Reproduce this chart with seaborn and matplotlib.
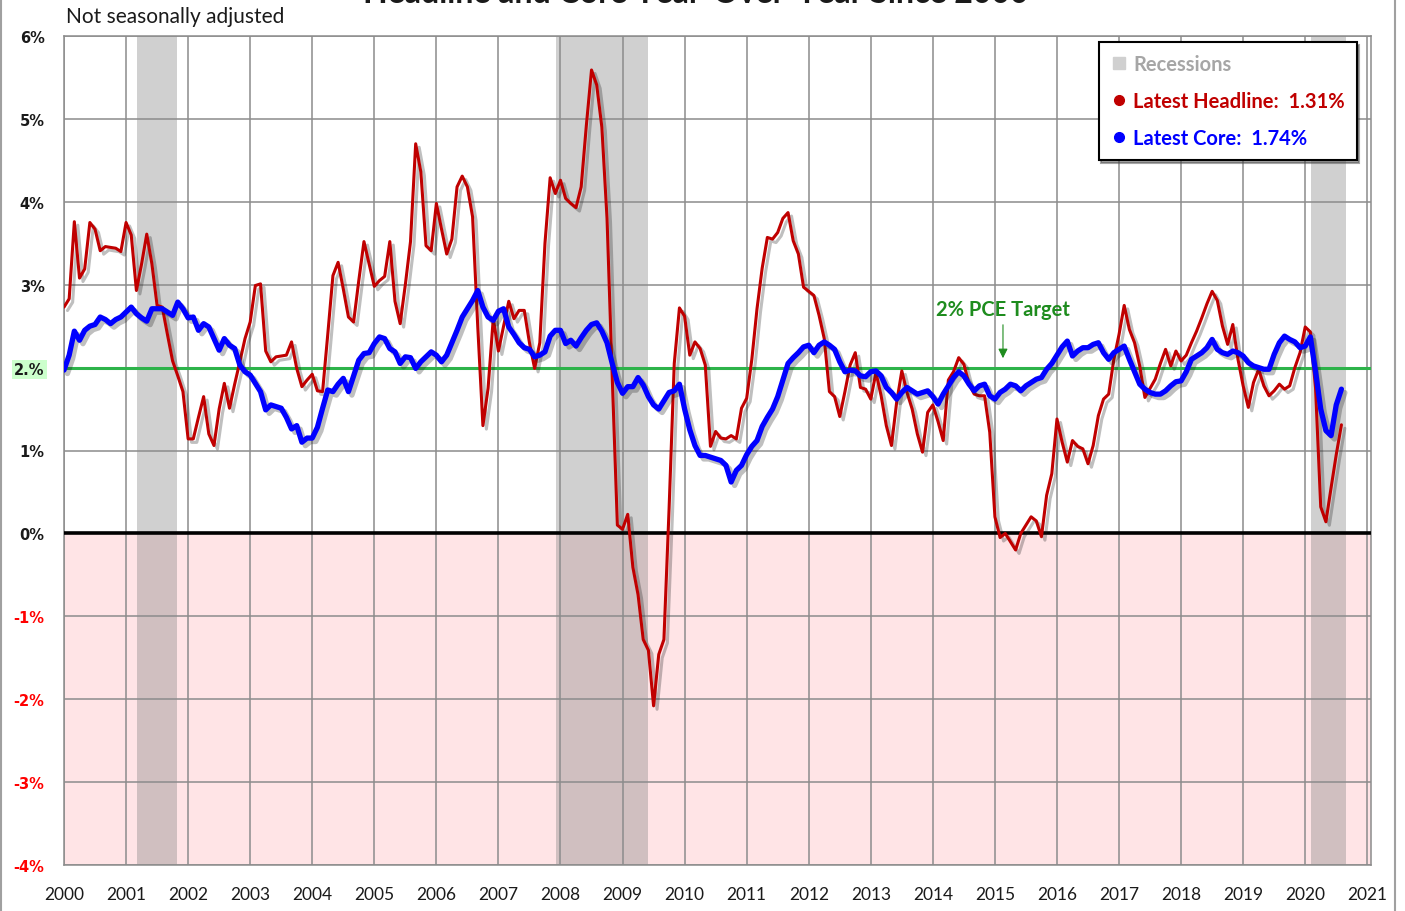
import numpy as np
import pandas as pd
import matplotlib
matplotlib.use("Agg")
import matplotlib.pyplot as plt
import matplotlib.patheffects as pe
from matplotlib.lines import Line2D
import seaborn as sns

# ── DATA: PCE year-over-year change (%), monthly Jan 2000 .. Aug 2020 ──
headline = [
    2.73, 2.83, 3.76, 3.08, 3.19, 3.75, 3.67, 3.41, 3.46, 3.45, 3.44, 3.40,   # 2000
    3.75, 3.60, 2.93, 3.25, 3.61, 3.25, 2.75, 2.73, 2.40, 2.08, 1.90, 1.71,   # 2001
    1.14, 1.14, 1.40, 1.65, 1.20, 1.06, 1.50, 1.81, 1.51, 1.80, 2.07, 2.35,   # 2002
    2.55, 2.99, 3.01, 2.20, 2.07, 2.13, 2.14, 2.15, 2.31, 1.99, 1.77, 1.85,   # 2003
    1.92, 1.72, 1.71, 2.40, 3.11, 3.27, 2.95, 2.61, 2.55, 3.05, 3.52, 3.25,   # 2004
    2.98, 3.05, 3.10, 3.52, 2.80, 2.53, 3.00, 3.52, 4.70, 4.36, 3.47, 3.41,   # 2005
    3.98, 3.67, 3.37, 3.55, 4.18, 4.31, 4.18, 3.82, 2.50, 1.30, 1.75, 2.59,   # 2006
    2.20, 2.50, 2.80, 2.59, 2.69, 2.69, 2.30, 1.99, 2.30, 3.50, 4.29, 4.10,   # 2007
    4.26, 4.04, 3.98, 3.93, 4.18, 4.92, 5.59, 5.41, 4.90, 3.80, 1.90, 0.10,   # 2008
    0.05, 0.23, -0.41, -0.74, -1.28, -1.41, -2.08, -1.46, -1.28, 0.30, 2.05, 2.72,  # 2009
    2.62, 2.15, 2.31, 2.23, 2.03, 1.05, 1.23, 1.15, 1.14, 1.18, 1.14, 1.51,   # 2010
    1.63, 2.10, 2.71, 3.20, 3.57, 3.55, 3.63, 3.80, 3.87, 3.53, 3.37, 2.97,   # 2011
    2.92, 2.87, 2.63, 2.35, 1.71, 1.65, 1.41, 1.71, 2.03, 2.18, 1.76, 1.74,   # 2012
    1.62, 1.94, 1.66, 1.30, 1.06, 1.58, 1.96, 1.70, 1.50, 1.20, 0.98, 1.46,   # 2013
    1.55, 1.35, 1.12, 1.85, 1.95, 2.12, 2.04, 1.80, 1.68, 1.66, 1.66, 1.22,   # 2014
    0.20, -0.05, 0.00, -0.10, -0.20, 0.00, 0.10, 0.20, 0.15, -0.04, 0.46, 0.72,  # 2015
    1.38, 1.10, 0.86, 1.12, 1.05, 1.02, 0.84, 1.06, 1.42, 1.62, 1.68, 2.10,   # 2016
    2.40, 2.75, 2.46, 2.30, 2.02, 1.64, 1.75, 1.86, 2.05, 2.22, 2.02, 2.20,   # 2017
    2.08, 2.15, 2.30, 2.44, 2.60, 2.77, 2.92, 2.81, 2.50, 2.28, 2.52, 2.10,   # 2018
    1.78, 1.52, 1.82, 1.98, 1.78, 1.66, 1.72, 1.80, 1.74, 1.78, 2.00, 2.18,   # 2019
    2.49, 2.43, 1.75, 0.32, 0.14, 0.55, 0.95, 1.31,                           # 2020
]

core = [
    1.97, 2.15, 2.44, 2.33, 2.45, 2.50, 2.52, 2.61, 2.58, 2.53, 2.58, 2.61,   # 2000
    2.67, 2.73, 2.65, 2.60, 2.56, 2.71, 2.71, 2.71, 2.67, 2.63, 2.79, 2.71,   # 2001
    2.60, 2.61, 2.45, 2.53, 2.49, 2.35, 2.21, 2.35, 2.27, 2.23, 2.03, 1.95,   # 2002
    1.91, 1.81, 1.71, 1.49, 1.55, 1.53, 1.51, 1.40, 1.26, 1.30, 1.10, 1.15,   # 2003
    1.15, 1.28, 1.51, 1.73, 1.71, 1.80, 1.87, 1.71, 1.90, 2.09, 2.17, 2.18,   # 2004
    2.29, 2.37, 2.35, 2.23, 2.19, 2.05, 2.13, 2.12, 1.99, 2.07, 2.13, 2.19,   # 2005
    2.15, 2.07, 2.15, 2.30, 2.45, 2.61, 2.71, 2.81, 2.93, 2.73, 2.61, 2.57,   # 2006
    2.68, 2.71, 2.49, 2.40, 2.30, 2.24, 2.22, 2.13, 2.15, 2.19, 2.38, 2.45,   # 2007
    2.45, 2.29, 2.33, 2.26, 2.36, 2.45, 2.52, 2.54, 2.44, 2.30, 2.05, 1.82,   # 2008
    1.69, 1.77, 1.77, 1.88, 1.79, 1.65, 1.55, 1.50, 1.60, 1.70, 1.72, 1.80,   # 2009
    1.50, 1.25, 1.06, 0.94, 0.94, 0.92, 0.90, 0.88, 0.82, 0.62, 0.76, 0.82,   # 2010
    0.95, 1.05, 1.12, 1.29, 1.40, 1.50, 1.65, 1.85, 2.05, 2.12, 2.18, 2.25,   # 2011
    2.27, 2.18, 2.27, 2.31, 2.27, 2.22, 2.07, 1.95, 1.97, 1.96, 1.90, 1.89,   # 2012
    1.95, 1.96, 1.90, 1.76, 1.70, 1.62, 1.70, 1.76, 1.72, 1.68, 1.70, 1.72,   # 2013
    1.65, 1.56, 1.68, 1.78, 1.88, 1.95, 1.90, 1.80, 1.72, 1.78, 1.80, 1.66,   # 2014
    1.62, 1.70, 1.74, 1.80, 1.78, 1.72, 1.78, 1.82, 1.86, 1.88, 1.98, 2.05,   # 2015
    2.15, 2.25, 2.32, 2.14, 2.20, 2.24, 2.24, 2.28, 2.30, 2.18, 2.10, 2.18,   # 2016
    2.22, 2.26, 2.10, 1.95, 1.80, 1.74, 1.70, 1.68, 1.68, 1.72, 1.78, 1.83,   # 2017
    1.84, 1.95, 2.10, 2.14, 2.18, 2.24, 2.34, 2.22, 2.18, 2.16, 2.20, 2.18,   # 2018
    2.14, 2.06, 2.02, 2.00, 1.98, 1.98, 2.16, 2.30, 2.38, 2.34, 2.31, 2.24,   # 2019
    2.26, 2.37, 1.95, 1.50, 1.24, 1.18, 1.55, 1.74,                           # 2020
]

# recession spans in decimal years (NBER)
rec_start = [2001.18, 2007.93, 2020.10]
rec_end = [2001.82, 2009.41, 2020.65]

year_ticks = list(range(2000, 2022))
pct_ticks = list(range(-4, 7))
pct_labels = ["-4%", "-3%", "-2%", "-1%", "0%", "1%", "2.%", "3%", "4%", "5%", "6%"]

target = 2.0

# colours
RED = "#C00000"
BLUE = "#0000FF"
GREEN = "#2DB34A"
DKGREEN = "#1E8C1E"
PINK = "#FFE4E6"
GRID = "#8C8C8C"

# ── FIGURE ───────────────────────────────────────────
sns.set_theme(style="white")
plt.rcParams["font.family"] = ["Lato", "DejaVu Sans"]

fig = plt.figure(figsize=(14.05, 9.12), dpi=100)
ax = fig.add_axes([64 / 1405, 1 - 866 / 912, 1307 / 1405, 829 / 912])

dates = pd.date_range("2000-01-01", periods=len(headline), freq="MS")
df = pd.DataFrame({
    "year": dates.year + (dates.month - 1) / 12,
    "headline": headline,
    "core": core,
})

ax.set_xlim(2000, 2021.06)
ax.set_ylim(-4, 6)

# negative zone and recession bands
ax.axhspan(-4, 0, color=PINK, lw=0, zorder=0)
for s, e in zip(rec_start, rec_end):
    ax.axvspan(s, e, color="#7F7F7F", alpha=0.36, lw=0, zorder=0.5)

ax.set_xticks(year_ticks)
ax.set_xticklabels([str(y) for y in year_ticks])
ax.set_yticks(pct_ticks)
ax.set_yticklabels(pct_labels)
ax.set_axisbelow(False)
ax.grid(True, color=GRID, lw=1.1)

ax.axhline(0, color="black", lw=2.6, zorder=3)
ax.axhline(target, color=GREEN, lw=2.2, zorder=3)

shadow = [pe.SimpleLineShadow(offset=(2.5, -2.5), alpha=0.28), pe.Normal()]
sns.lineplot(data=df, x="year", y="headline", ax=ax, color=RED, lw=2.2, zorder=4)
ax.lines[-1].set_path_effects(shadow)
sns.lineplot(data=df, x="year", y="core", ax=ax, color=BLUE, lw=3.8, zorder=5)
ax.lines[-1].set_path_effects(shadow)

ax.set_xlabel("")
ax.set_ylabel("")

for sp in ax.spines.values():
    sp.set_color(GRID)
    sp.set_linewidth(1.1)

ax.tick_params(axis="x", length=0, pad=15, labelsize=12.5, labelcolor="#1A1A1A")
ax.tick_params(axis="y", length=0, pad=14)
for lab, v in zip(ax.get_yticklabels(), pct_ticks):
    lab.set_fontfamily("DejaVu Sans")
    lab.set_fontweight("bold")
    lab.set_fontsize(10.5)
    lab.set_color("#FF0000" if v < 0 else "#1A1A1A")
    if v == 2:
        lab.set_bbox(dict(facecolor="#CCFFCC", edgecolor="none", pad=1.5))

# 2% target annotation
ax.annotate("", xy=(2015.13, 2.08), xytext=(2015.13, 2.55),
            arrowprops=dict(arrowstyle="-|>", color=DKGREEN, lw=0.8, mutation_scale=14))
ax.text(2015.13, 2.71, "2% PCE Target", ha="center", va="center",
        color=DKGREEN, fontweight="bold", fontsize=14.5)

# legend
handles = [
    Line2D([], [], ls="none", marker="s", ms=9, mfc="#D0D0D0", mec="#D0D0D0"),
    Line2D([], [], ls="none", marker="o", ms=7, mfc=RED, mec=RED),
    Line2D([], [], ls="none", marker="o", ms=7, mfc=BLUE, mec=BLUE),
]
labels = ["Recessions",
          f"Latest Headline:  {headline[-1]:.2f}%",
          f"Latest Core:  {core[-1]:.2f}%"]
leg = ax.legend(handles, labels, loc="upper right", bbox_to_anchor=(0.989, 0.993),
                frameon=True, fancybox=False, edgecolor="black", framealpha=1,
                shadow=True, prop=dict(weight="bold", size=14.5), labelspacing=0.85,
                handletextpad=0.3, handlelength=0.8, borderpad=0.6, borderaxespad=0)
leg.get_frame().set_linewidth(1.5)
for txt, c in zip(leg.get_texts(), ["#A6A6A6", RED, BLUE]):
    txt.set_color(c)

# texts outside the plot area
fig.text(66 / 1405, 1 - 17 / 912, "Not seasonally adjusted", fontsize=15,
         va="center", ha="left", color="#1A1A1A")
fig.text(0.495, 1 - 3 / 912, "Headline and Core Year-Over-Year Since 2000",
         ha="center", va="baseline", fontsize=23, fontweight="bold", color="#1A1A1A")

# chart-area frame
for xf in (1 / 1405, 1395 / 1405):
    fig.add_artist(Line2D([xf, xf], [0, 1], transform=fig.transFigure,
                          color="#A0A0A0", lw=1.5))

fig.savefig("out.png", dpi=100)
plt.close(fig)
